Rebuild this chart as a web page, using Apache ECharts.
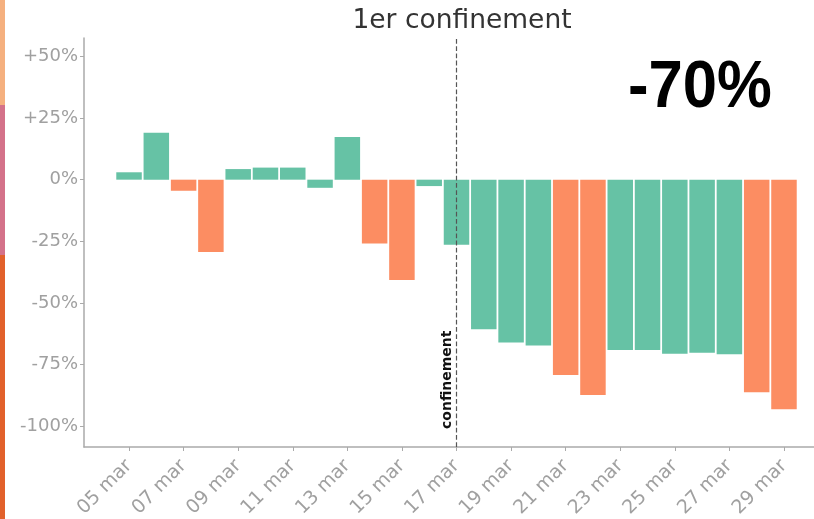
<!DOCTYPE html>
<html>
<head>
<meta charset="utf-8">
<script src="https://cdn.jsdelivr.net/npm/echarts@6/dist/echarts.min.js"></script>
<style>
  html, body { margin: 0; padding: 0; background: #fff; }
  #chart { width: 814px; height: 519px; }
</style>
</head>
<body>
<div id="chart"></div>
<script>
// jours de mars 2020
var jours = [5, 6, 7, 8, 9, 10, 11, 12, 13, 14, 15, 16, 17, 18, 19, 20, 21, 22, 23, 24, 25, 26, 27, 28, 29];
// variation en %
var variations = [3, 19, -4.5, -29.4, 4.3, 4.9, 4.9, -3.3, 17.3, -25.9, -40.7, -2.6, -26.4, -60.7, -66.1, -67.3, -79.3, -87.4, -69.1, -69.1, -70.7, -70.2, -70.9, -86.3, -93.2];
// s = semaine, w = weekend
var typeJour = ['s', 's', 'w', 'w', 's', 's', 's', 's', 's', 'w', 'w', 's', 's', 's', 's', 's', 'w', 'w', 's', 's', 's', 's', 's', 'w', 'w'];
var ticksX = [5, 7, 9, 11, 13, 15, 17, 19, 21, 23, 25, 27, 29];
var ticksY = [-100, -75, -50, -25, 0, 25, 50];
var jourConfinement = 17;

var couleurs = { s: '#66c2a5', w: '#fc8d62' };

var chart = echarts.init(document.getElementById('chart'));

var data = jours.map(function (j, i) {
    return { value: [j, variations[i]], itemStyle: { color: couleurs[typeJour[i]] } };
});

function pad(n) { return (n < 10 ? '0' : '') + n; }

var option = {
    animation: false,
    textStyle: { fontFamily: 'DejaVu Sans' },
    title: {
        text: '1er confinement',
        left: 457,
        top: 3,
        textAlign: 'center',
        textStyle: { fontSize: 26.5, fontWeight: 'normal', color: '#333', fontFamily: 'DejaVu Sans' }
    },
    grid: { left: 84, right: 0, top: 38, bottom: 72, containLabel: false, outerBoundsMode: 'none' },
    xAxis: {
        type: 'value',
        min: 3.35,
        max: 30.1,
        splitLine: { show: false },
        axisLine: { onZero: false, lineStyle: { color: '#aaa', width: 1.5 } },
        axisTick: { show: true, length: 4, customValues: ticksX, lineStyle: { color: '#aaa' } },
        axisLabel: {
            customValues: ticksX,
            rotate: 45,
            margin: 16,
            fontSize: 19,
            color: '#a0a0a0',
            formatter: function (v) { return pad(v) + ' mar'; }
        }
    },
    yAxis: {
        type: 'value',
        min: -108.5,
        max: 57.5,
        splitLine: { show: false },
        axisLine: { show: true, lineStyle: { color: '#aaa', width: 1.5 } },
        axisTick: { show: true, length: 4, customValues: ticksY, lineStyle: { color: '#aaa' } },
        axisLabel: {
            customValues: ticksY,
            margin: 6,
            fontSize: 18,
            color: '#a0a0a0',
            formatter: function (v) { return (v > 0 ? '+' : '') + v + '%'; }
        }
    },
    series: [{
        type: 'bar',
        barWidth: 25.5,
        data: data,
        markLine: {
            silent: true,
            symbol: 'none',
            lineStyle: { type: 'dashed', color: '#555', width: 1.2 },
            label: {
                show: true,
                position: 'insideStartTop',
                formatter: 'confinement',
                color: '#111',
                fontWeight: 'bold',
                fontSize: 14,
                distance: 2,
                padding: [0, 0, 0, 16]
            },
            data: [{ xAxis: jourConfinement }]
        }
    }],
    graphic: [
        { type: 'rect', left: 0, top: 0, shape: { width: 5, height: 105 }, style: { fill: '#f5b07f' } },
        { type: 'rect', left: 0, top: 105, shape: { width: 5, height: 150 }, style: { fill: '#d4728a' } },
        { type: 'rect', left: 0, top: 255, shape: { width: 5, height: 264 }, style: { fill: '#e2612b' } },
        {
            type: 'text',
            x: 628,
            y: 89,
            scaleX: 0.92,
            style: {
                text: '-70%',
                fill: '#000',
                font: 'bold 67px "Liberation Sans"',
                textAlign: 'left',
                textVerticalAlign: 'middle'
            }
        }
    ]
};

chart.setOption(option);
</script>
</body>
</html>
